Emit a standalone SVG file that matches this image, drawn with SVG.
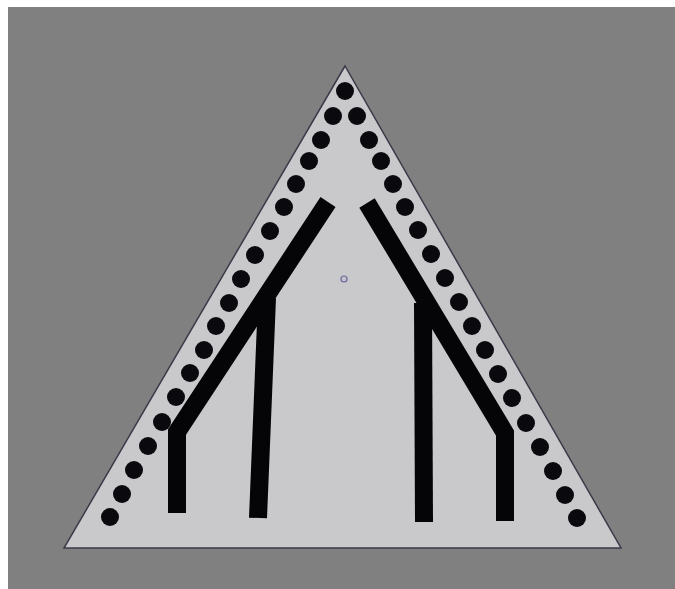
<svg xmlns="http://www.w3.org/2000/svg" width="675" height="589" viewBox="0 0 675 589">
<style>
.dot{fill:#0a0a0e}
.bar{fill:none;stroke:#050508;stroke-width:18;stroke-linecap:butt;stroke-linejoin:miter}
</style>
<rect x="0" y="0" width="675" height="589" fill="#ffffff"/>
<rect x="8" y="7" width="667" height="582" fill="#808080"/>
<g id="sign">
<polygon points="345,66 64,548 621,548" fill="#c9c9cc" stroke="#3a3a48" stroke-width="1.5"/>
</g>
<g id="dots">
<circle class="dot" cx="345" cy="91" r="9"/>
<circle class="dot" cx="333" cy="116" r="9"/>
<circle class="dot" cx="321" cy="140" r="9"/>
<circle class="dot" cx="309" cy="161" r="9"/>
<circle class="dot" cx="296" cy="184" r="9"/>
<circle class="dot" cx="284" cy="207" r="9"/>
<circle class="dot" cx="270" cy="231" r="9"/>
<circle class="dot" cx="255" cy="255" r="9"/>
<circle class="dot" cx="241" cy="279" r="9"/>
<circle class="dot" cx="229" cy="303" r="9"/>
<circle class="dot" cx="216" cy="326" r="9"/>
<circle class="dot" cx="204" cy="350" r="9"/>
<circle class="dot" cx="190" cy="373" r="9"/>
<circle class="dot" cx="176" cy="397" r="9"/>
<circle class="dot" cx="162" cy="422" r="9"/>
<circle class="dot" cx="148" cy="446" r="9"/>
<circle class="dot" cx="134" cy="470" r="9"/>
<circle class="dot" cx="122" cy="494" r="9"/>
<circle class="dot" cx="110" cy="517" r="9"/>
<circle class="dot" cx="357" cy="116" r="9"/>
<circle class="dot" cx="369" cy="140" r="9"/>
<circle class="dot" cx="381" cy="161" r="9"/>
<circle class="dot" cx="393" cy="184" r="9"/>
<circle class="dot" cx="405" cy="207" r="9"/>
<circle class="dot" cx="418" cy="230" r="9"/>
<circle class="dot" cx="431" cy="254" r="9"/>
<circle class="dot" cx="445" cy="278" r="9"/>
<circle class="dot" cx="459" cy="302" r="9"/>
<circle class="dot" cx="472" cy="326" r="9"/>
<circle class="dot" cx="485" cy="350" r="9"/>
<circle class="dot" cx="498" cy="374" r="9"/>
<circle class="dot" cx="512" cy="398" r="9"/>
<circle class="dot" cx="526" cy="423" r="9"/>
<circle class="dot" cx="540" cy="447" r="9"/>
<circle class="dot" cx="553" cy="471" r="9"/>
<circle class="dot" cx="565" cy="495" r="9"/>
<circle class="dot" cx="577" cy="518" r="9"/>
</g>
<g id="bars">
<polyline class="bar" points="328,202 177,432 177,513"/>
<polyline class="bar" points="267,298 258,518"/>
<polyline class="bar" points="367,203 505,433 505,521"/>
<polyline class="bar" points="423,303 424,522"/>
</g>
<g id="marker">
<circle cx="344" cy="279" r="3" fill="#c4c4d0" stroke="#6a6a9a" stroke-width="1.2"/>
</g>
</svg>
